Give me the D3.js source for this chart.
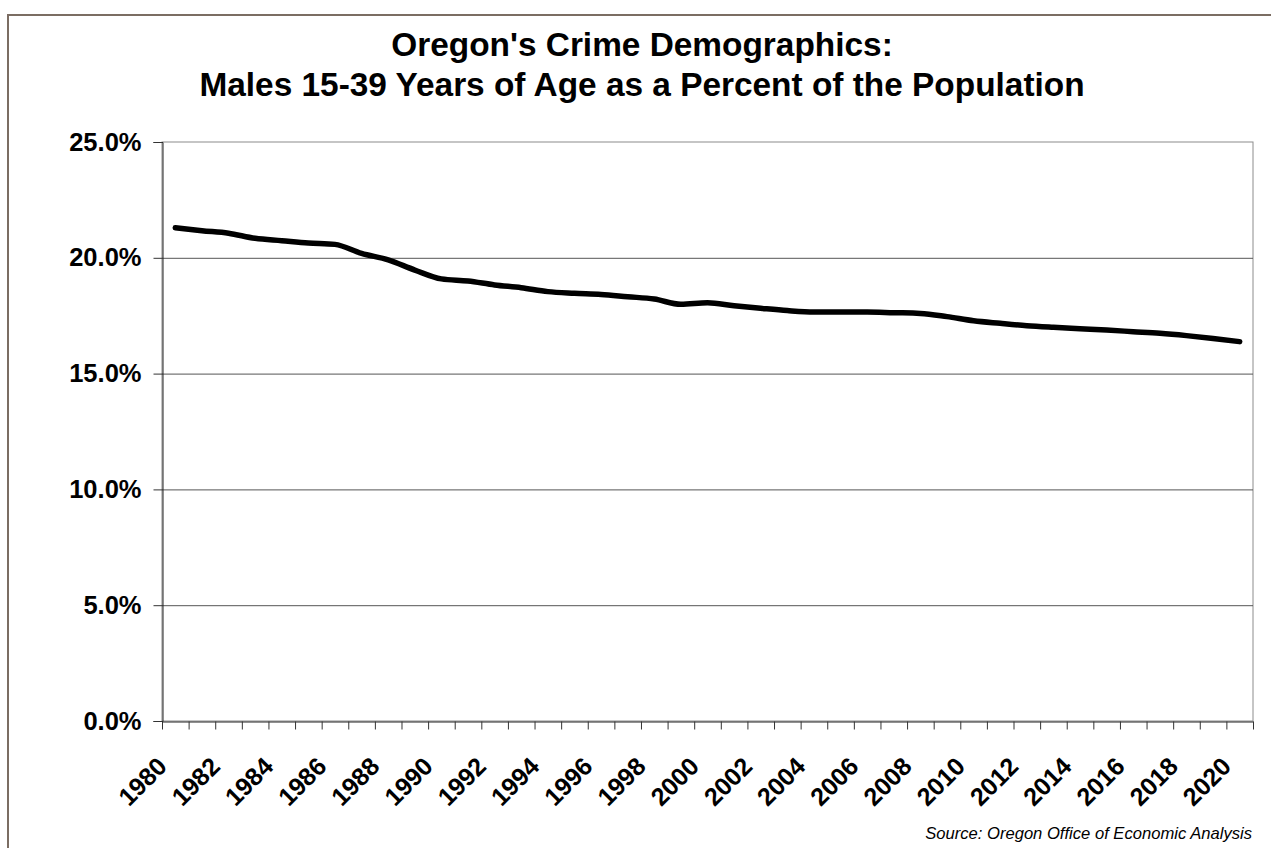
<!DOCTYPE html>
<html>
<head>
<meta charset="utf-8">
<script src="https://cdn.jsdelivr.net/npm/d3@7"></script>
<style>
  html, body { margin: 0; padding: 0; background: #ffffff; }
  svg { display: block; }
  text { font-family: "Liberation Sans", Arial, sans-serif; }
</style>
</head>
<body>
<svg id="chart" width="1271" height="848"></svg>
<script>
// Oregon males aged 15-39 as a share of total population, by year
const years = d3.range(1980, 2021);
const sharePct = [
  21.30, 21.17, 21.06, 20.84, 20.74, 20.64, 20.58, 20.19, 19.91, 19.47,
  19.09, 19.00, 18.83, 18.71, 18.54, 18.47, 18.42, 18.32, 18.22, 17.99,
  18.06, 17.93, 17.82, 17.72, 17.66, 17.66, 17.66, 17.63, 17.60, 17.46,
  17.28, 17.17, 17.07, 17.00, 16.94, 16.88, 16.81, 16.74, 16.64, 16.52,
  16.38
];
const yTicks = [0, 5, 10, 15, 20, 25];
const labelYears = years.filter(y => (y - 1980) % 2 === 0);

const titleLines = [
  "Oregon's Crime Demographics:",
  "Males 15-39 Years of Age as a Percent of the Population"
];
const sourceText = "Source: Oregon Office of Economic Analysis";

const svg = d3.select("#chart");
const plot = { left: 162, right: 1253, top: 142, bottom: 721 };

// outer frame
svg.append("rect")
  .attr("x", 8).attr("y", 15)
  .attr("width", 1290).attr("height", 870)
  .attr("fill", "#ffffff")
  .attr("stroke", "#7b6d63").attr("stroke-width", 2);

// scales
const x = d3.scaleBand().domain(years).range([plot.left, plot.right]).padding(0);
const xEdge = d3.scaleLinear().domain([1980, 2021]).range([plot.left, plot.right]);
const y = d3.scaleLinear().domain([0, 25]).range([plot.bottom, plot.top]);
const cx = yr => x(yr) + x.bandwidth() / 2;

// plot area border (top / right)
svg.append("rect")
  .attr("x", plot.left).attr("y", plot.top)
  .attr("width", plot.right - plot.left).attr("height", plot.bottom - plot.top)
  .attr("fill", "none").attr("stroke", "#8c8c8c").attr("stroke-width", 1);

// horizontal gridlines
svg.append("g")
  .selectAll("line")
  .data(yTicks.filter(t => t > 0 && t < 25))
  .join("line")
  .attr("x1", plot.left).attr("x2", plot.right)
  .attr("y1", d => y(d) + 0.5).attr("y2", d => y(d) + 0.5)
  .attr("stroke", "#555555").attr("stroke-width", 1);

// y axis
const yAxis = svg.append("g")
  .attr("transform", `translate(${plot.left + 0.5},0)`)
  .call(d3.axisLeft(y).tickValues(yTicks).tickSize(9).tickPadding(12)
    .tickFormat(d => d.toFixed(1) + "%"));
yAxis.select(".domain").attr("stroke", "#222222");
yAxis.selectAll(".tick line").attr("stroke", "#333333");
yAxis.selectAll(".tick text")
  .attr("font-family", "Liberation Sans, Arial, sans-serif")
  .attr("font-size", 25.5).attr("font-weight", "bold").attr("fill", "#000000");

// x axis tick marks at category boundaries
const xAxis = svg.append("g")
  .attr("transform", `translate(0,${plot.bottom + 0.5})`)
  .call(d3.axisBottom(xEdge).tickValues(d3.range(1980, 2022)).tickSize(8)
    .tickSizeOuter(0).tickFormat(""));
xAxis.select(".domain").attr("stroke", "#222222");
xAxis.selectAll(".tick line").attr("stroke", "#333333");

// rotated year labels, every other year
svg.append("g")
  .selectAll("text")
  .data(labelYears)
  .join("text")
  .attr("transform", d => `translate(${cx(d) - 7},${plot.bottom + 47}) rotate(-45)`)
  .attr("text-anchor", "end")
  .attr("font-size", 25).attr("font-weight", "bold")
  .text(d => d);

// data line
const line = d3.line()
  .x((d, i) => cx(years[i]))
  .y(d => y(d))
  .curve(d3.curveMonotoneX);

svg.append("path")
  .datum(sharePct)
  .attr("d", line)
  .attr("fill", "none")
  .attr("stroke", "#000000")
  .attr("stroke-width", 5.5)
  .attr("stroke-linejoin", "round")
  .attr("stroke-linecap", "round");

// title
svg.append("g")
  .selectAll("text")
  .data(titleLines)
  .join("text")
  .attr("x", 642)
  .attr("y", (d, i) => 56 + i * 40)
  .attr("text-anchor", "middle")
  .attr("font-size", 33.4).attr("font-weight", "bold")
  .text(d => d);

// source note
svg.append("text")
  .attr("x", 1252).attr("y", 839)
  .attr("text-anchor", "end")
  .attr("font-size", 16.6).attr("font-style", "italic")
  .text(sourceText);
</script>
</body>
</html>
